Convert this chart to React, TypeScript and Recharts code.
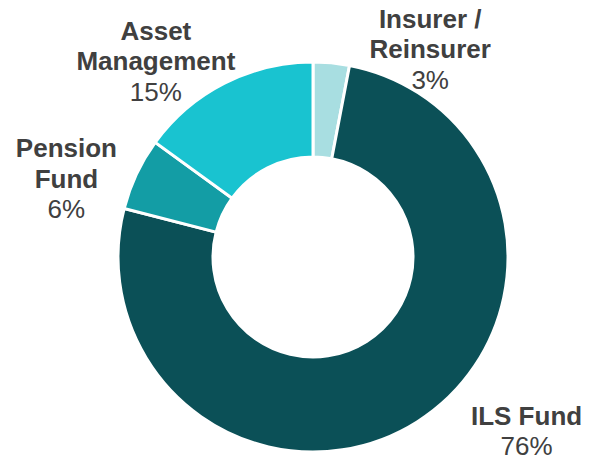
import React from "react";
import { PieChart, Pie, Cell } from "recharts";

const categories = ["Insurer / Reinsurer", "ILS Fund", "Pension Fund", "Asset Management"];
const shares = [3, 76, 6, 15];
const labelLines = [["Insurer /", "Reinsurer"], ["ILS Fund"], ["Pension", "Fund"], ["Asset", "Management"]];

const COLORS = ["#A8DEE1", "#0B5057", "#139DA5", "#19C3D0"];
// nudge from the polar anchor to where each label block sits
const NUDGE = [
  { dx: 96, dy: -5 },
  { dx: 93, dy: -22 },
  { dx: -43, dy: -4 },
  { dx: -55, dy: -17 },
];
const RAD = Math.PI / 180;
const LINE_H = 30.5;

const data = categories.map((name, i) => ({ name, value: shares[i] }));

const renderLabel = (props: any) => {
  const { cx, cy, midAngle, outerRadius, index, value } = props;
  const r = outerRadius + 30;
  const x = cx + r * Math.cos(-midAngle * RAD) + NUDGE[index].dx;
  const y = cy + r * Math.sin(-midAngle * RAD) + NUDGE[index].dy;
  const lines = labelLines[index];
  return (
    <text
      x={x}
      y={y}
      textAnchor="middle"
      fill="#404040"
      style={{ fontFamily: "'Liberation Sans', Arial, sans-serif", fontSize: 26 }}
    >
      {lines.map((ln, k) => (
        <tspan key={k} x={x} dy={k === 0 ? 0 : LINE_H} fontWeight="bold">
          {ln}
        </tspan>
      ))}
      <tspan x={x} dy={LINE_H}>
        {`${value}%`}
      </tspan>
    </text>
  );
};

export default function App() {
  return (
    <div style={{ position: "absolute", left: 0, top: 0, width: 590, height: 458, background: "#fff" }}>
      <PieChart width={590} height={458} margin={{ top: 0, right: 0, bottom: 0, left: 0 }}>
        <Pie
          data={data}
          dataKey="value"
          nameKey="name"
          cx={313}
          cy={257}
          innerRadius={100}
          outerRadius={195}
          startAngle={90}
          endAngle={-270}
          stroke="#fff"
          strokeWidth={3}
          label={renderLabel}
          labelLine={false}
          isAnimationActive={false}
        >
          {data.map((d, i) => (
            <Cell key={d.name} fill={COLORS[i]} />
          ))}
        </Pie>
      </PieChart>
    </div>
  );
}
